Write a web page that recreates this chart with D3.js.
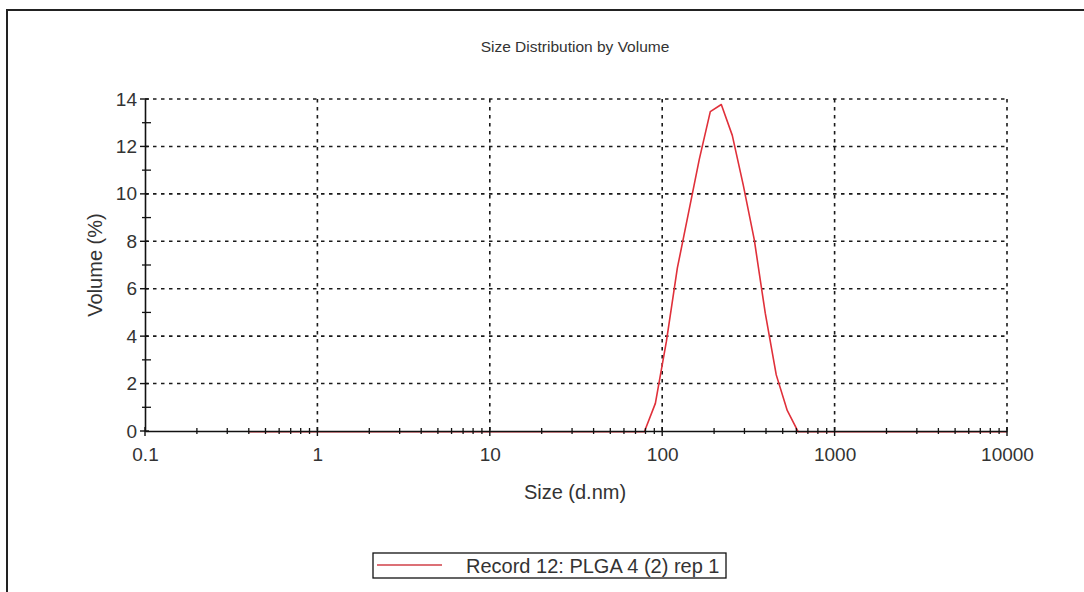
<!DOCTYPE html>
<html>
<head>
<meta charset="utf-8">
<script src="https://cdn.jsdelivr.net/npm/d3@7"></script>
<style>
	body { margin: 0; background: #fff; }
	text { font-family: "Liberation Sans", Arial, sans-serif; fill: #333; }
</style>
</head>
<body>
<div id="chart"></div>
<script>
// Size classes (d.nm) of the instrument
const sizes = [0.4, 0.4632, 0.5365, 0.6213, 0.7195, 0.8332, 0.9649, 1.117, 1.294, 1.499,
	1.736, 2.010, 2.328, 2.696, 3.122, 3.615, 4.187, 4.849, 5.615, 6.503,
	7.531, 8.721, 10.10, 11.70, 13.54, 15.69, 18.17, 21.04, 24.36, 28.21,
	32.67, 37.84, 43.82, 50.75, 58.77, 68.06, 78.82, 91.28, 105.7, 122.4,
	141.8, 164.2, 190.1, 220.2, 255.0, 295.3, 342.0, 396.1, 458.7, 531.2,
	615.1, 712.4, 825.0, 955.4, 1106, 1281, 1484, 1718, 1990, 2305,
	2669, 3091, 3580, 4145, 4801, 5560, 6439, 7456, 8635, 10000];
// Volume (%) per class
const volumes = [0, 0, 0, 0, 0, 0, 0, 0, 0, 0,
	0, 0, 0, 0, 0, 0, 0, 0, 0, 0,
	0, 0, 0, 0, 0, 0, 0, 0, 0, 0,
	0, 0, 0, 0, 0, 0, 0, 1.2, 3.8, 6.9,
	9.2, 11.5, 13.5, 13.8, 12.5, 10.4, 8.1, 5.0, 2.4, 0.9,
	0, 0, 0, 0, 0, 0, 0, 0, 0, 0,
	0, 0, 0, 0, 0, 0, 0, 0, 0, 0];
const xTickValues = [0.1, 1, 10, 100, 1000, 10000];
const xTickLabels = ["0.1", "1", "10", "100", "1000", "10000"];
const yTickValues = [0, 2, 4, 6, 8, 10, 12, 14];
const seriesName = "Record 12: PLGA 4 (2) rep 1";

const W = 1084, H = 592;
const svg = d3.select("#chart").append("svg").attr("width", W).attr("height", H);

// outer frame (only top and left edges visible in the reference)
svg.append("path")
	.attr("d", `M7,${H} V10 H${W}`)
	.attr("fill", "none").attr("stroke", "#222").attr("stroke-width", 2);

const plot = { left: 145, right: 1007, top: 99, bottom: 431 };
const x = d3.scaleLog().domain([0.1, 10000]).range([plot.left, plot.right]);
const y = d3.scaleLinear().domain([0, 14]).range([plot.bottom, plot.top]);

// dotted grid
const grid = svg.append("g").attr("stroke", "#1a1a1a").attr("stroke-width", 1.6)
	.attr("stroke-dasharray", "3.5,4.5");
grid.selectAll(".gy").data(yTickValues.filter(d => d > 0)).enter().append("line")
	.attr("x1", plot.left).attr("x2", plot.right)
	.attr("y1", d => y(d)).attr("y2", d => y(d));
grid.selectAll(".gx").data(xTickValues.filter(d => d > 0.1)).enter().append("line")
	.attr("x1", d => x(d)).attr("x2", d => x(d))
	.attr("y1", plot.top).attr("y2", plot.bottom);

// data line
const line = d3.line().x((d, i) => x(sizes[i])).y(d => y(d));
svg.append("path").datum(volumes)
	.attr("fill", "none").attr("stroke", "#e0303a").attr("stroke-width", 1.6)
	.attr("stroke-linejoin", "round")
	.attr("transform", "translate(0,0.8)")
	.attr("d", line);

// x axis
const xAxis = svg.append("g").attr("transform", `translate(0,${plot.bottom})`)
	.call(d3.axisBottom(x).tickValues(xTickValues)
		.tickFormat((d, i) => xTickLabels[i]).tickSize(0).tickPadding(17));
xAxis.select(".domain").attr("stroke", "#111").attr("stroke-width", 1.6);
xAxis.selectAll("text").attr("font-size", 19).attr("fill", "#3a3a3a")
	.attr("font-family", "Liberation Sans, Arial, sans-serif");

const minorX = [];
xTickValues.slice(0, -1).forEach(dec => {
	for (let k = 2; k <= 9; k++) minorX.push(dec * k);
});
svg.append("g").attr("stroke", "#111").attr("stroke-width", 1.3)
	.selectAll("line").data(minorX).enter().append("line")
	.attr("x1", d => x(d)).attr("x2", d => x(d))
	.attr("y1", plot.bottom - 3).attr("y2", plot.bottom + 3);
svg.append("g").attr("stroke", "#111").attr("stroke-width", 1.4)
	.selectAll("line").data(xTickValues).enter().append("line")
	.attr("x1", d => x(d)).attr("x2", d => x(d))
	.attr("y1", plot.bottom - 4).attr("y2", plot.bottom + 5);

// y axis
const yAxis = svg.append("g").attr("transform", `translate(${plot.left},0)`)
	.call(d3.axisLeft(y).tickValues(yTickValues).tickSize(0).tickPadding(8));
yAxis.select(".domain").attr("stroke", "#111").attr("stroke-width", 1.6);
yAxis.selectAll("text").attr("font-size", 19).attr("fill", "#3a3a3a")
	.attr("font-family", "Liberation Sans, Arial, sans-serif");

const minorY = d3.range(1, 14, 2);
svg.append("g").attr("stroke", "#111").attr("stroke-width", 1.3)
	.selectAll("line").data(minorY).enter().append("line")
	.attr("x1", plot.left - 3).attr("x2", plot.left + 6)
	.attr("y1", d => y(d)).attr("y2", d => y(d));
svg.append("g").attr("stroke", "#111").attr("stroke-width", 1.4)
	.selectAll("line").data(yTickValues).enter().append("line")
	.attr("x1", plot.left - 5).attr("x2", plot.left + 4)
	.attr("y1", d => y(d)).attr("y2", d => y(d));

// titles
svg.append("text").attr("x", 575).attr("y", 52).attr("text-anchor", "middle")
	.attr("font-size", 15.5).text("Size Distribution by Volume");
svg.append("text").attr("x", 575).attr("y", 499).attr("text-anchor", "middle")
	.attr("font-size", 20).text("Size (d.nm)");
svg.append("text").attr("transform", "translate(102,265) rotate(-90)")
	.attr("text-anchor", "middle").attr("font-size", 20).text("Volume (%)");

// legend
const legend = svg.append("g");
legend.append("rect").attr("x", 373).attr("y", 553).attr("width", 353).attr("height", 25)
	.attr("fill", "#fff").attr("stroke", "#111").attr("stroke-width", 1.3);
legend.append("line").attr("x1", 377).attr("x2", 442).attr("y1", 565).attr("y2", 565)
	.attr("stroke", "#d04048").attr("stroke-width", 1.4);
legend.append("text").attr("x", 466).attr("y", 573).attr("font-size", 20).text(seriesName);
</script>
</body>
</html>
